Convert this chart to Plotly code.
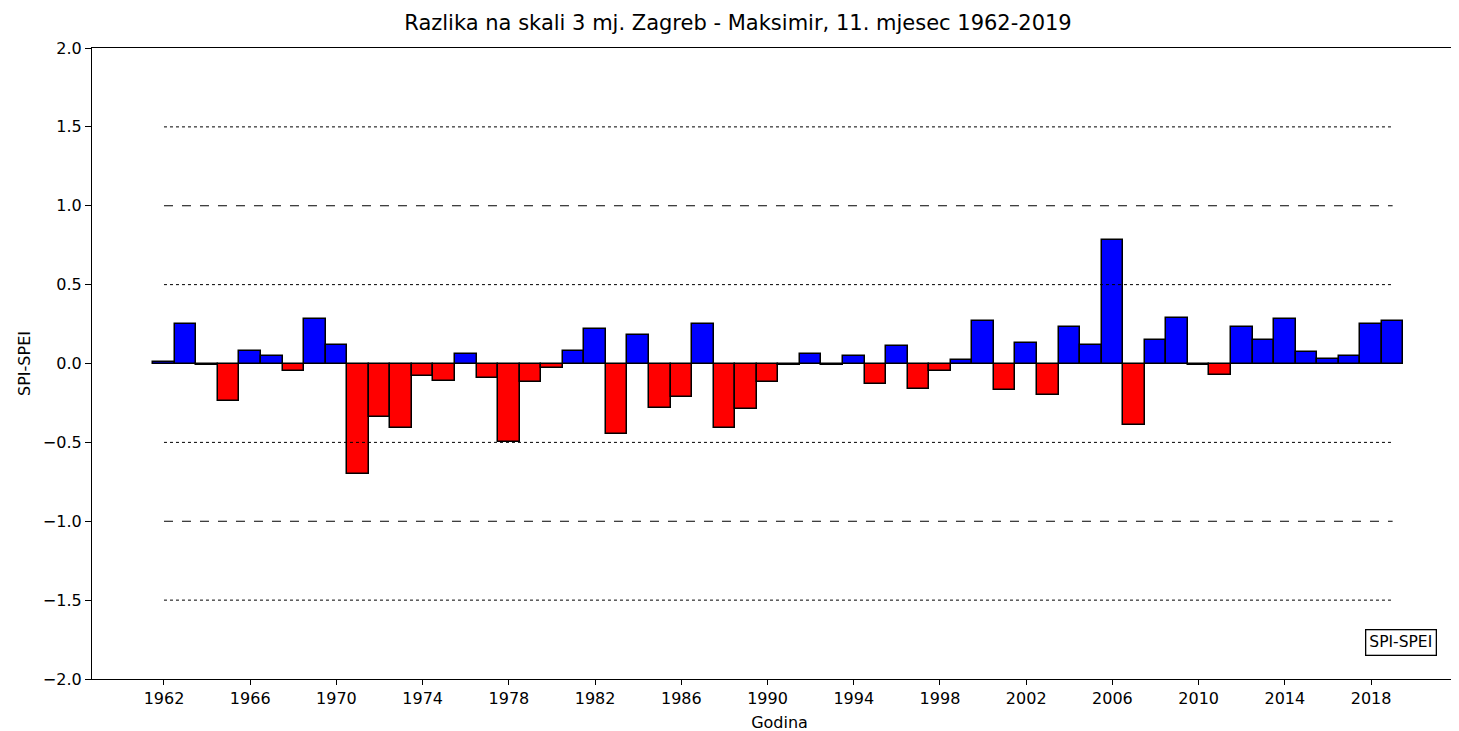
import plotly.graph_objects as go

# data
years = list(range(1962, 2020))
diff = [
    0.01, 0.25, -0.01, -0.24, 0.08, 0.05, -0.05, 0.28, 0.12, -0.70,
    -0.34, -0.41, -0.08, -0.11, 0.06, -0.09, -0.50, -0.12, -0.03, 0.08,
    0.22, -0.45, 0.18, -0.28, -0.21, 0.25, -0.41, -0.29, -0.12, -0.01,
    0.06, -0.01, 0.05, -0.13, 0.11, -0.16, -0.05, 0.02, 0.27, -0.17,
    0.13, -0.20, 0.23, 0.12, 0.78, -0.39, 0.15, 0.29, -0.01, -0.07,
    0.23, 0.15, 0.28, 0.07, 0.03, 0.05, 0.25, 0.27,
]
ref_levels = [1.5, 1.0, 0.5, -0.5, -1.0, -1.5]
ref_styles = ["dot", "dash", "dot", "dot", "dash", "dot"]
x_ticks = list(range(1962, 2020, 4))
y_ticks = [-2.0, -1.5, -1.0, -0.5, 0.0, 0.5, 1.0, 1.5, 2.0]

font = "DejaVu Sans"
colors = ["#0000ff" if v >= 0 else "#ff0000" for v in diff]

fig = go.Figure()

# reference lines
for lvl, st in zip(ref_levels, ref_styles):
    fig.add_trace(go.Scatter(
        x=[years[0], years[-1]], y=[lvl, lvl], mode="lines",
        line=dict(color="black", width=1, dash=st),
        showlegend=False, hoverinfo="skip",
    ))

fig.add_trace(go.Bar(
    x=years, y=diff, width=1,
    marker=dict(color=colors, line=dict(color="black", width=1.5)),
    showlegend=False,
))

fig.add_annotation(
    text="SPI-SPEI", xref="paper", yref="paper", x=0.952, y=0.058,
    xanchor="center", yanchor="middle",
    showarrow=False, font=dict(family=font, size=15.5, color="black"),
    bordercolor="black", borderwidth=1.3, borderpad=3, bgcolor="white",
)

fig.update_layout(
    width=1459, height=731,
    plot_bgcolor="white", paper_bgcolor="white",
    margin=dict(l=84, r=0, t=40, b=60),
    bargap=0,
    title=dict(
        text="Razlika na skali 3 mj. Zagreb - Maksimir, 11. mjesec 1962-2019",
        x=730 / 1459, xanchor="center", y=1 - 15 / 731, yanchor="middle",
        font=dict(family=font, size=21, color="black"),
    ),
    font=dict(family=font, size=16, color="black"),
)

fig.update_xaxes(
    range=[1958.66, 2022.45], tickvals=x_ticks,
    showgrid=False, zeroline=False,
    showline=True, linecolor="black", linewidth=1.2, mirror=True,
    ticks="outside", ticklen=5, tickcolor="black",
    title=dict(text="Godina", font=dict(family=font, size=16), standoff=9),
)
fig.update_yaxes(
    range=[-2.0, 2.0], tickvals=y_ticks,
    ticktext=[f"{v:.1f}".replace("-", "\u2212") for v in y_ticks],
    showgrid=False, zeroline=False,
    showline=True, linecolor="black", linewidth=1.2, mirror=False,
    ticks="outside", ticklen=6, tickcolor="black",
    title=dict(text="SPI-SPEI", font=dict(family=font, size=16), standoff=8),
)

fig.write_html("out.html")
